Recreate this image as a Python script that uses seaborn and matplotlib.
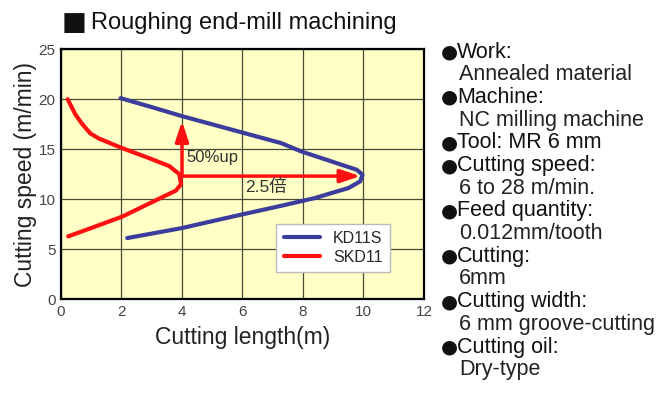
import pandas as pd
import matplotlib
matplotlib.use("Agg")
import matplotlib.pyplot as plt
import seaborn as sns

# KD11S curve (cutting length m, cutting speed m/min)
kd_len = [1.97, 3.0, 4.0, 5.7, 7.28, 7.94, 8.61, 9.28, 9.78, 9.97, 9.89, 9.5, 8.94, 8.39, 7.28, 5.7, 4.0, 2.19]
kd_speed = [20.1, 19.2, 18.3, 16.9, 15.6, 14.77, 14.1, 13.43, 12.93, 12.43, 11.77, 11.1, 10.6, 10.1, 9.33, 8.27, 7.1, 6.1]

# SKD11 curve
skd_len = [0.22, 0.47, 0.69, 0.97, 1.24, 2.02, 2.91, 3.58, 3.91, 3.97, 3.8, 3.13, 2.02, 1.13, 0.24]
skd_speed = [20.0, 18.5, 17.55, 16.57, 16.08, 15.1, 14.1, 13.3, 12.5, 11.5, 10.85, 9.87, 8.24, 7.25, 6.27]

series_names = ["KD11S", "SKD11"]
x_ticks = [0, 2, 4, 6, 8, 10, 12]
y_ticks = [0, 5, 10, 15, 20, 25]

conditions = [
    ("Work:", "Annealed material"),
    ("Machine:", "NC milling machine"),
    ("Tool: MR 6 mm", None),
    ("Cutting speed:", "6 to 28 m/min."),
    ("Feed quantity:", "0.012mm/tooth"),
    ("Cutting:", "6mm"),
    ("Cutting width:", "6 mm groove-cutting"),
    ("Cutting oil:", "Dry-type"),
]

df = pd.concat([
    pd.DataFrame({"length": kd_len, "speed": kd_speed, "steel": series_names[0]}),
    pd.DataFrame({"length": skd_len, "speed": skd_speed, "steel": series_names[1]}),
])

sns.set_style("white")
plt.rcParams["font.family"] = ["Liberation Sans", "Noto Sans CJK JP", "DejaVu Sans"]

fig = plt.figure(figsize=(6.68, 4.03), dpi=100)
ax = fig.add_axes([0.0913, 0.258, 0.5434, 0.62])
ax.set_facecolor("#FFFFC6")

sns.lineplot(data=df, x="length", y="speed", hue="steel", estimator=None, sort=False,
             palette={"KD11S": "#3C3C9C", "SKD11": "#FF1010"}, linewidth=3, ax=ax)
for line in ax.lines:
    line.set_solid_joinstyle("round")
    line.set_solid_capstyle("round")

# arrows from SKD11 peak: speed 50% up, length 2.5x
arrow = dict(arrowstyle="-|>,head_length=1.2,head_width=0.4", color="#FF1010", lw=2.5,
             shrinkA=0, shrinkB=0)
ax.annotate("", xy=(4.0, 17.8), xytext=(4.0, 12.3), arrowprops=arrow)
ax.annotate("", xy=(9.9, 12.3), xytext=(4.0, 12.3), arrowprops=arrow)
ax.text(4.13, 14.2, "50%up", fontsize=12, color="#333333", va="center")
ax.text(6.1, 11.2, "2.5倍", fontsize=12.5, color="#333333", va="center")

ax.set_xlim(0, 12)
ax.set_ylim(0, 25)
ax.set_xticks(x_ticks)
ax.set_yticks(y_ticks)
ax.grid(True, color="#4A4A3A", linewidth=0.9)
for s in ax.spines.values():
    s.set_color("black")
    s.set_linewidth(1.6)
ax.tick_params(labelsize=11, labelcolor="#444444", length=0, pad=4)
ax.set_xlabel("Cutting length(m)", fontsize=16.5, color="#222222", labelpad=5)
ax.set_ylabel("Cutting speed (m/min)", fontsize=16.5, color="#222222", labelpad=1)

leg = ax.legend(loc="lower right", bbox_to_anchor=(0.906, 0.108), borderaxespad=0, frameon=True,
                fancybox=False, fontsize=11.5, handlelength=2.3, borderpad=0.45, labelspacing=0.25)
leg.get_frame().set_edgecolor("#BBBBBB")
leg.get_frame().set_facecolor("white")
leg.get_frame().set_alpha(1)

fig.text(62 / 668, 1 - 23 / 403, "■", fontsize=19, color="#111111", va="center", ha="left",
         family=["DejaVu Sans"])
fig.text(91 / 668, 1 - 23 / 403, "Roughing end-mill machining", fontsize=17, color="#111111",
         va="center", ha="left")

y = 52
for head, sub_line in conditions:
    fig.text(441 / 668, 1 - y / 403, "●", fontsize=14, color="#111111", va="center",
             family=["DejaVu Sans"])
    fig.text(457 / 668, 1 - y / 403, head, fontsize=15.5, color="#111111", va="center")
    y += 22.7
    if sub_line:
        fig.text(459 / 668, 1 - y / 403, sub_line, fontsize=15.5, color="#222222", va="center")
        y += 22.7

fig.savefig("out.png", dpi=100)
